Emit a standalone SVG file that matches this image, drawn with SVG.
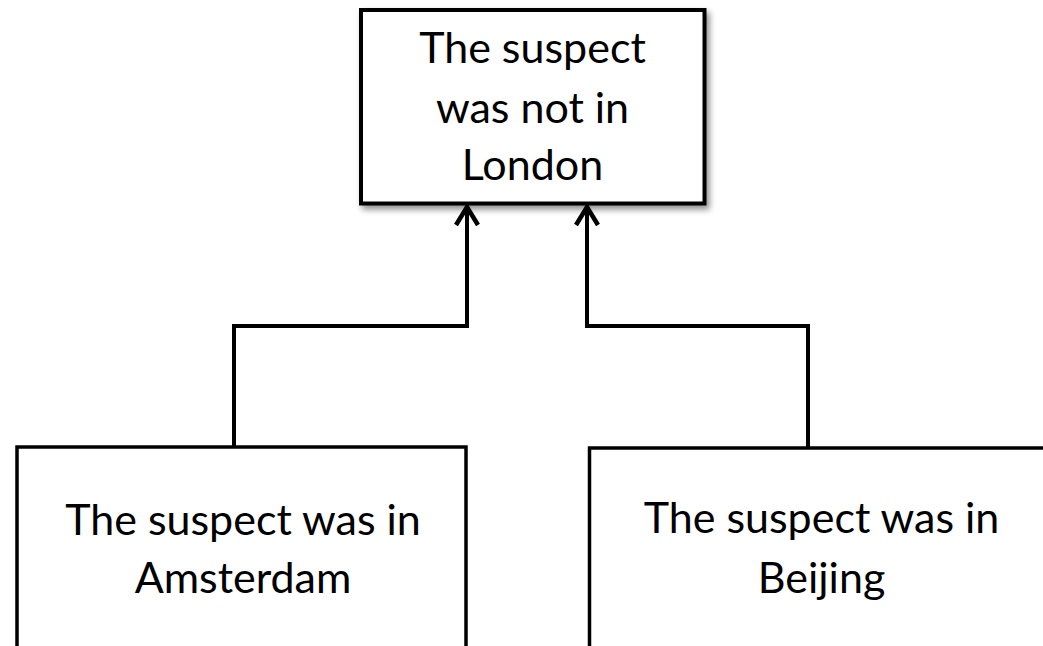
<svg xmlns="http://www.w3.org/2000/svg" width="1043" height="646" viewBox="0 0 1043 646">
  <style>
    .box { fill: #ffffff; stroke: #000000; stroke-width: 4; }
    .box-thin { fill: #ffffff; stroke: #000000; stroke-width: 3.5; }
    .label { font-family: Lato, "Open Sans", sans-serif; font-size: 43px; fill: #000000; text-anchor: middle; }
    .link { fill: none; stroke: #000000; stroke-width: 4; stroke-linejoin: miter; }
  </style>
  <defs>
    <filter id="shadow" x="-10%" y="-10%" width="125%" height="130%">
      <feGaussianBlur in="SourceAlpha" stdDeviation="3"/>
      <feOffset dx="3" dy="4" result="blur"/>
      <feComponentTransfer><feFuncA type="linear" slope="0.45"/></feComponentTransfer>
      <feMerge><feMergeNode/><feMergeNode in="SourceGraphic"/></feMerge>
    </filter>
    <marker id="open-arrow" markerUnits="userSpaceOnUse" viewBox="-24 -14 28 28" markerWidth="28" markerHeight="28" refX="0" refY="0" orient="auto">
      <path d="M-18,-11 L0,0 L-18,11" fill="none" stroke="#000000" stroke-width="4.5" stroke-linejoin="miter"/>
    </marker>
  </defs>

  <g id="connectors">
    <path class="link" d="M234,447 V326 H467 V207" marker-end="url(#open-arrow)"/>
    <path class="link" d="M808,448 V326 H587 V207" marker-end="url(#open-arrow)"/>
  </g>

  <g id="node-london">
    <rect class="box" x="361" y="10" width="343.5" height="193.5" filter="url(#shadow)"/>
    <text class="label" x="532.5" y="63">The suspect</text>
    <text class="label" x="532.5" y="123">was not in</text>
    <text class="label" x="532.5" y="180">London</text>
  </g>

  <g id="node-amsterdam">
    <rect class="box-thin" x="17" y="447" width="449" height="220"/>
    <text class="label" x="243" y="535">The suspect was in</text>
    <text class="label" x="243" y="593">Amsterdam</text>
  </g>

  <g id="node-beijing">
    <rect class="box-thin" x="589.5" y="448" width="470" height="220"/>
    <text class="label" x="821.5" y="533">The suspect was in</text>
    <text class="label" x="821.5" y="593">Beijing</text>
  </g>
</svg>
